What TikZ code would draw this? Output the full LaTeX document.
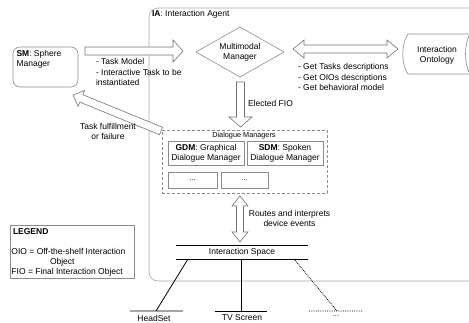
\documentclass[tikz,border=0pt]{standalone}
\usepackage{fontspec}
\setmainfont{Liberation Sans}
\usetikzlibrary{shapes.geometric,calc}

% Hollow block arrow from #1 to the tip #2; #3 half body width, #4 half head width, #5 head length
\newcommand\blockarrowone[5]{%
  \path ($(#2)!#5!(#1)$) coordinate (bac);
  \draw[blockarrow] ($(#1)!#3!90:(#2)$) -- ($(bac)!#3!-90:(#1)$) -- ($(bac)!#4!-90:(#1)$)
    -- (#2) -- ($(bac)!#4!90:(#1)$) -- ($(bac)!#3!90:(#1)$) -- ($(#1)!#3!-90:(#2)$) -- cycle;
}
% Hollow block arrow with a head at both ends
\newcommand\blockarrowtwo[5]{%
  \path ($(#1)!#5!(#2)$) coordinate (bad) ($(#2)!#5!(#1)$) coordinate (bac);
  \draw[blockarrow] (#1) -- ($(bad)!#4!90:(#2)$) -- ($(bad)!#3!90:(#2)$)
    -- ($(bac)!#3!-90:(#1)$) -- ($(bac)!#4!-90:(#1)$) -- (#2)
    -- ($(bac)!#4!90:(#1)$) -- ($(bac)!#3!90:(#1)$)
    -- ($(bad)!#3!-90:(#2)$) -- ($(bad)!#4!-90:(#2)$) -- cycle;
}

\begin{document}
\begin{tikzpicture}[x=1pt,y=-1pt,
  every node/.style={font=\fontsize{8.5}{10.3}\selectfont, inner sep=0pt, outer sep=0pt},
  box/.style={draw=black!45, line width=0.6pt},
  blockarrow/.style={draw=black!55, line width=0.6pt, fill=white, line join=miter},
  wire/.style={draw=black, line width=0.8pt},
  small/.style={font=\fontsize{7.3}{9}\selectfont},
]
\useasboundingbox (0,0) rectangle (469,322);
\clip (0,0) rectangle (469,322);

% Interaction agent frame (continues past the right edge)
\node[draw=black!35, line width=0.6pt, rounded corners=9pt, minimum width=340pt,
      minimum height=273pt, anchor=north west] (ia) at (149,8) {};
\node[anchor=west] (ialabel) at (152,14.5) {\textbf{IA}: Interaction Agent};

% Sphere manager
\node[box, rounded corners=7pt, minimum width=65pt, minimum height=40pt, anchor=north west] (sm) at (13,47) {};
\node[anchor=west, align=left] (smtext) at (16.5,59) {\textbf{SM}: Sphere\\Manager};

% Multimodal manager
\node[box, diamond, aspect=1.76, minimum width=88pt, minimum height=50pt, align=center] (mm) at (240,52) {Multimodal\\Manager};

% Interaction ontology (stored data shape)
\node[align=center] (onto) at (437,55) {Interaction\\Ontology};
\draw[box] (408,34) -- (472,34) (408,74) -- (472,74)
  (408,34) .. controls (401,44) and (401,64) .. (408,74)
  (470,34) .. controls (464,44) and (464,64) .. (470,74);

% SM -> multimodal manager
\coordinate (smout) at (85,51);
\coordinate (mmin) at (183,51);
\blockarrowone{smout}{mmin}{4pt}{11pt}{10pt}
\node[anchor=west, align=left] (taskin) at (96,72) {- Task Model\\- Interactive Task to be\\instantiated};

% Multimodal manager <-> ontology
\coordinate (mmout) at (293,49);
\coordinate (ontoin) at (398,49);
\blockarrowtwo{mmout}{ontoin}{4pt}{9pt}{11pt}
\node[anchor=west, align=left] (getlist) at (298,77) {- Get Tasks descriptions\\- Get OIOs descriptions\\- Get behavioral model};

% Multimodal manager -> dialogue managers
\coordinate (mmdown) at (240.5,82);
\coordinate (dmin) at (240.5,127);
\blockarrowone{mmdown}{dmin}{4pt}{11.5pt}{10pt}
\node[anchor=west] (elected) at (248,103.5) {Elected FIO};

% Dialogue managers
\node[draw=black!45, dash pattern=on 3pt off 2pt, line width=0.6pt, minimum width=165pt,
      minimum height=63pt, anchor=north west] (dm) at (162,130) {};
\node[small] (dmtitle) at (244,135.5) {Dialogue Managers};
\node[box, minimum width=76pt, minimum height=24pt, align=center] (gdm) at (206,153) {\textbf{GDM}: Graphical\\Dialogue Manager};
\node[box, minimum width=76pt, minimum height=24pt, align=center] (sdm) at (285,153) {\textbf{SDM}: Spoken\\Dialogue Manager};
\node[box, small, minimum width=49pt, minimum height=16pt] (dotsa) at (192.5,180) {...};
\node[box, small, minimum width=47pt, minimum height=16pt] (dotsb) at (244.5,180) {...};

% Dialogue managers -> sphere manager
\coordinate (dmback) at (161,131);
\coordinate (smin) at (73,95);
\blockarrowone{dmback}{smin}{4pt}{8.5pt}{9pt}
\node[align=center] (taskout) at (108,131.5) {Task fulfillment\\or failure};

% Dialogue managers <-> interaction space
\coordinate (dmout) at (240,196);
\coordinate (isin) at (240,242);
\blockarrowtwo{dmout}{isin}{3.5pt}{8pt}{10pt}
\node[align=center] (routes) at (289.5,218.5) {Routes and interprets\\device events};

% Interaction space
\node (is) at (242,252) {Interaction Space};
\coordinate (istl) at (176,245); \coordinate (istr) at (308,245);
\coordinate (isbl) at (176,259); \coordinate (isbr) at (308,259);
\draw[wire] (istl) -- (istr) (isbl) -- (isbr);

% Devices
\node (hs) at (154,318) {HeadSet};
\node (tv) at (242,318) {TV Screen};
\node[small] (more) at (336,316) {...};
\coordinate (hsa) at (188,259); \coordinate (hsb) at (156,311);
\coordinate (tva) at (241,259); \coordinate (tvb) at (241,311);
\coordinate (moa) at (294,259); \coordinate (mob) at (337,311);
\draw[wire] (hsa) -- (hsb) (130,311) -- (183,311);
\draw[wire] (tva) -- (tvb) (215,311) -- (267,311);
\draw[wire, densely dotted] (moa) -- (mob) (309,311) -- (363,311);

% Legend
\node[box, minimum width=124pt, minimum height=53pt, anchor=north west] (legend) at (10,225) {};
\node[anchor=west] (lgtitle) at (13,231.5) {\textbf{LEGEND}};
\node[anchor=west] (lgoio) at (11.5,251.5) {OIO = Off-the-shelf Interaction};
\node[anchor=west] (lgobj) at (50,262) {Object};
\node[anchor=west] (lgfio) at (11.5,272.5) {FIO = Final Interaction Object};
\end{tikzpicture}
\end{document}
